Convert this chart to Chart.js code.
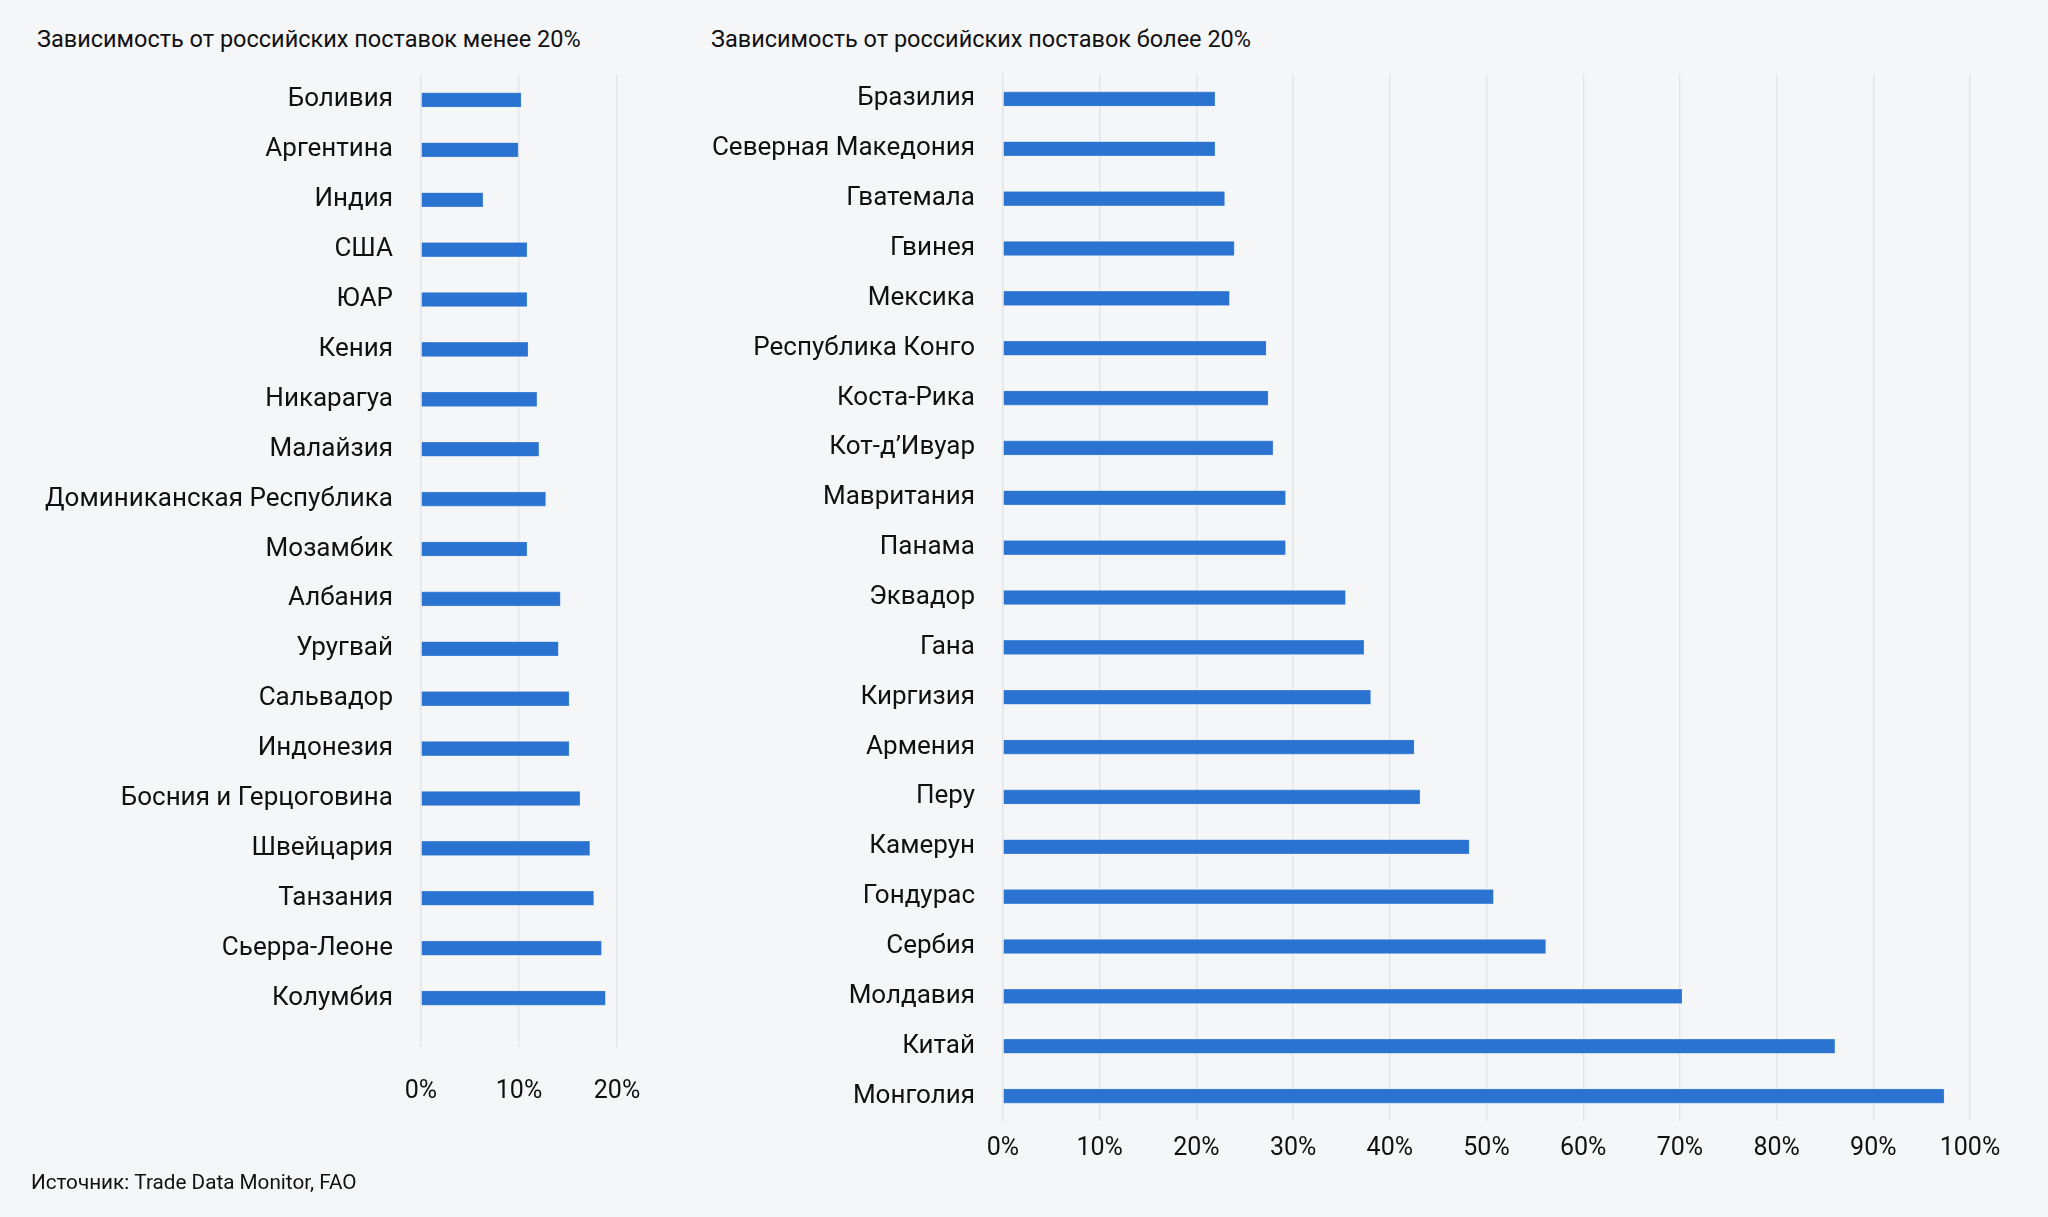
<!DOCTYPE html>
<html lang="ru">
<head>
<meta charset="utf-8">
<script src="https://cdn.jsdelivr.net/npm/chart.js@4"></script>
<style>
  html, body { margin: 0; padding: 0; background: #f5f6f8; }
  body { width: 2048px; height: 1217px; position: relative; overflow: hidden; font-family: Roboto, "Noto Sans", sans-serif; color: #111; }
  .title { position: absolute; top: 25px; font-size: 23.5px; white-space: nowrap; }
  .source { position: absolute; left: 31px; top: 1170px; font-size: 20.7px; white-space: nowrap; }
  #left-wrap { position: absolute; left: 0; top: 0; width: 700px; height: 1217px; }
  #right-wrap { position: absolute; left: 690px; top: 0; width: 1358px; height: 1217px; }
</style>
</head>
<body>
<div class="title" style="left:37px">Зависимость от российских поставок менее 20%</div>
<div class="title" style="left:711px">Зависимость от российских поставок более 20%</div>
<div id="left-wrap"><canvas id="left-chart"></canvas></div>
<div id="right-wrap"><canvas id="right-chart"></canvas></div>
<div class="source">Источник: Trade Data Monitor, FAO</div>
<script>
// Countries with under 20% dependence
const lowCountries = [
    'Боливия', 'Аргентина', 'Индия', 'США', 'ЮАР', 'Кения', 'Никарагуа', 'Малайзия',
    'Доминиканская Республика', 'Мозамбик', 'Албания', 'Уругвай', 'Сальвадор', 'Индонезия',
    'Босния и Герцоговина', 'Швейцария', 'Танзания', 'Сьерра-Леоне', 'Колумбия'
];
const lowShares = [10.2, 9.9, 6.3, 10.8, 10.8, 10.9, 11.8, 12.0, 12.7, 10.8, 14.2, 14.0, 15.1, 15.1, 16.2, 17.2, 17.6, 18.4, 18.8];
const lowTicks = [0, 10, 20];

// Countries with over 20% dependence
const highCountries = [
    'Бразилия', 'Северная Македония', 'Гватемала', 'Гвинея', 'Мексика', 'Республика Конго',
    'Коста-Рика', 'Кот-д’Ивуар', 'Мавритания', 'Панама', 'Эквадор', 'Гана', 'Киргизия',
    'Армения', 'Перу', 'Камерун', 'Гондурас', 'Сербия', 'Молдавия', 'Китай', 'Монголия'
];
const highShares = [21.9, 21.9, 22.9, 23.9, 23.4, 27.2, 27.4, 27.9, 29.2, 29.2, 35.4, 37.3, 38.0, 42.5, 43.1, 48.2, 50.7, 56.1, 70.2, 86.0, 97.3];
const highTicks = [0, 10, 20, 30, 40, 50, 60, 70, 80, 90, 100];

const barColor = '#2a73d0';
const gridColor = '#e2e4e8';

Chart.defaults.font.family = 'Roboto, "Noto Sans", sans-serif';
Chart.defaults.color = '#111';

function makeChart(canvasId, labels, values, tickValues, layout) {
    const ctx = document.getElementById(canvasId).getContext('2d');
    return new Chart(ctx, {
        type: 'bar',
        data: {
            labels: labels,
            datasets: [{
                data: values,
                backgroundColor: barColor,
                borderColor: '#5b94dc',
                borderWidth: 0.6,
                barThickness: 14
            }]
        },
        options: {
            indexAxis: 'y',
            responsive: true,
            maintainAspectRatio: false,
            animation: false,
            layout: { padding: { top: layout.top, right: layout.right, left: 0, bottom: 0 } },
            plugins: {
                legend: { display: false },
                tooltip: { enabled: false }
            },
            scales: {
                x: {
                    min: 0,
                    max: tickValues[tickValues.length - 1],
                    afterBuildTicks: (scale) => {
                        scale.ticks = tickValues.map(v => ({ value: v }));
                    },
                    afterFit: (scale) => { scale.height = layout.xHeight; },
                    grid: {
                        color: gridColor,
                        lineWidth: 1.3,
                        drawTicks: layout.tickLen > 0,
                        tickLength: layout.tickLen,
                        tickColor: gridColor
                    },
                    border: { display: false },
                    ticks: {
                        padding: layout.tickPad,
                        font: { size: 25 },
                        color: '#111',
                        callback: (v) => v + '%'
                    }
                },
                y: {
                    afterFit: (scale) => { scale.width = layout.yWidth; },
                    grid: { display: false, drawTicks: false },
                    border: { display: true, color: gridColor, width: 1.3 },
                    ticks: {
                        padding: 28,
                        font: { size: 26 },
                        color: '#111',
                        autoSkip: false
                    }
                }
            }
        }
    });
}

makeChart('left-chart', lowCountries, lowShares, lowTicks,
    { top: 75, right: 83, xHeight: 194, yWidth: 421, tickLen: 24, tickPad: 30 });
makeChart('right-chart', highCountries, highShares, highTicks,
    { top: 74, right: 78, xHeight: 96, yWidth: 313, tickLen: 0, tickPad: 13 });
</script>
</body>
</html>
